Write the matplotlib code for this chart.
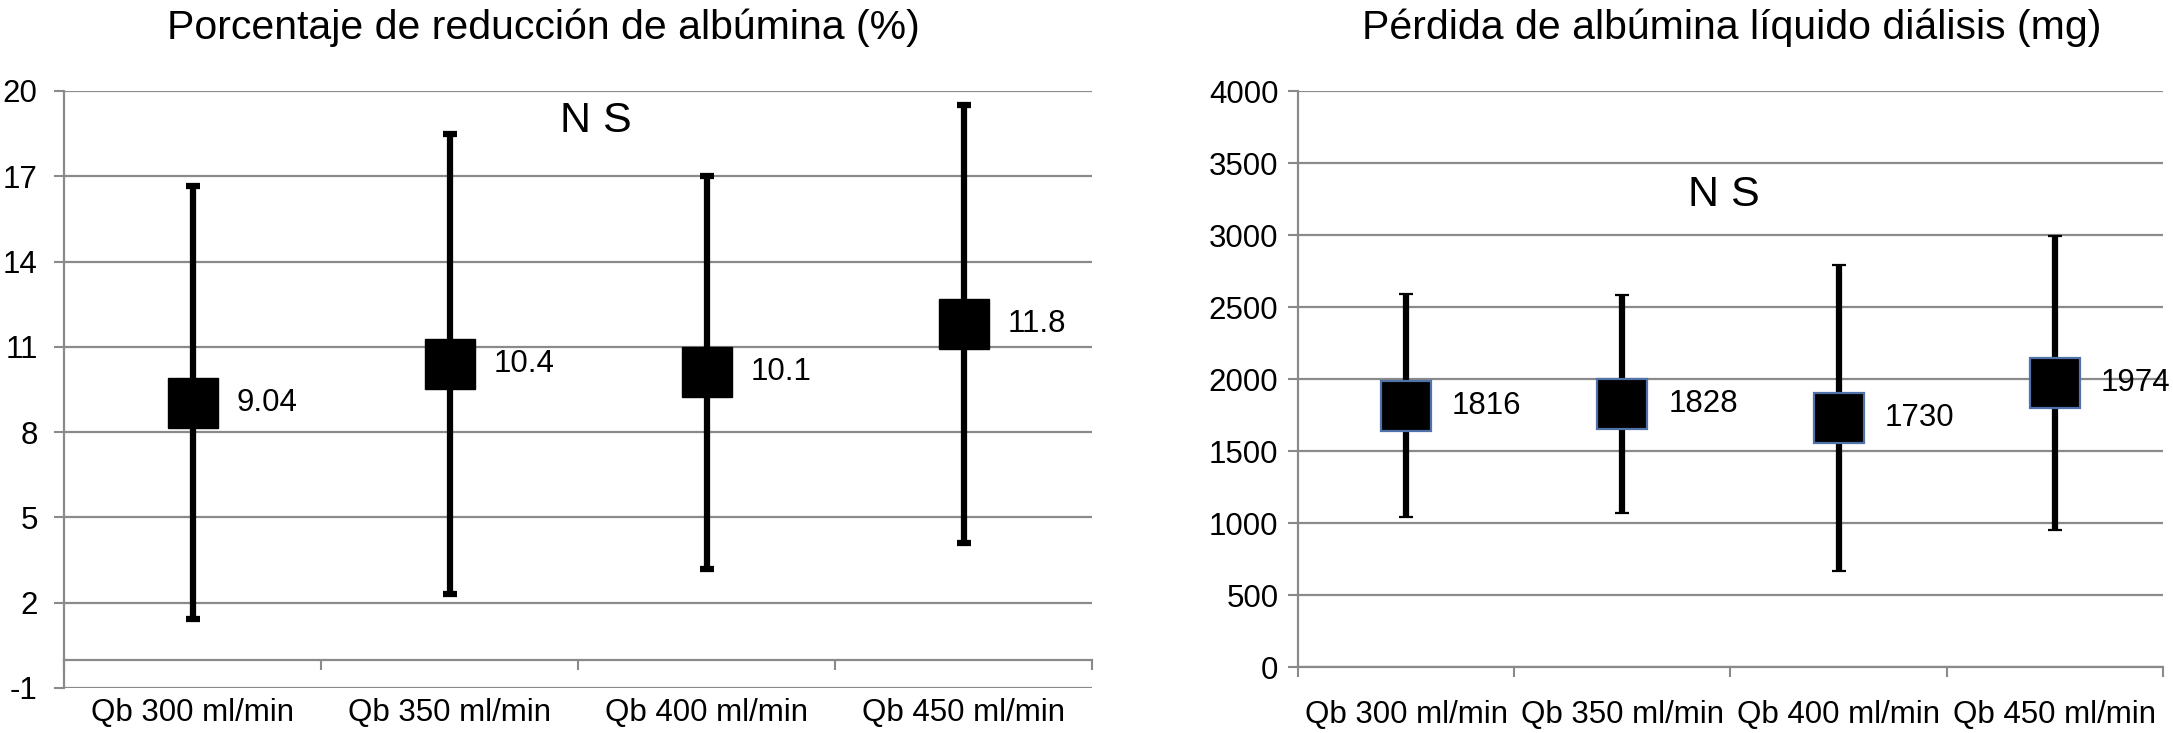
import numpy as np
import matplotlib
matplotlib.use("Agg")
import matplotlib.pyplot as plt

plt.rcParams['font.family'] = ['Liberation Sans', 'DejaVu Sans']
plt.rcParams['axes.unicode_minus'] = False

# ==========================
# Datos
# ==========================
categorias = ["Qb 300 ml/min", "Qb 350 ml/min", "Qb 400 ml/min", "Qb 450 ml/min"]

reduccion_media = [9.04, 10.4, 10.1, 11.8]
reduccion_de = [7.6, 8.1, 6.9, 7.7]
reduccion_etiquetas = ["9.04", "10.4", "10.1", "11.8"]

perdida_media = [1816, 1828, 1730, 1974]
perdida_de = [775, 757, 1065, 1025]
perdida_etiquetas = ["1816", "1828", "1730", "1974"]

ticks_izq = [-1, 2, 5, 8, 11, 14, 17, 20]
ticks_der = [0, 500, 1000, 1500, 2000, 2500, 3000, 3500, 4000]

gris = "#8a8a8a"


def preparar_eje(ax, yticks, ylim, pad_y, pad_x):
    x = np.arange(len(categorias))
    ax.set_xlim(-0.5, len(categorias) - 0.5)
    ax.set_ylim(*ylim)
    ax.set_yticks(yticks)
    ax.set_xticks(np.arange(len(categorias) + 1) - 0.5)
    ax.set_xticklabels([])
    ax.set_xticks(x, minor=True)
    ax.set_xticklabels(categorias, minor=True)
    ax.tick_params(axis='x', which='major', direction='out', length=7,
                   width=1.5, color=gris)
    ax.tick_params(axis='x', which='minor', length=0, pad=pad_x,
                   labelsize=22.5)
    ax.tick_params(axis='y', direction='out', length=7, width=1.5,
                   color=gris, labelsize=22.5, pad=pad_y)
    ax.grid(True, axis='y', color=gris, linewidth=1.6)
    ax.set_axisbelow(True)
    for lado in ['top', 'right']:
        ax.spines[lado].set_visible(False)
    for lado in ['left', 'bottom']:
        ax.spines[lado].set_color(gris)
        ax.spines[lado].set_linewidth(1.6)
    return x


fig = plt.figure(figsize=(21.73, 7.33), dpi=100)

# ==========================
# Panel izquierdo
# ==========================
ax1 = fig.add_axes([0.02945, 0.0614, 0.4731, 0.8145])
x = preparar_eje(ax1, ticks_izq, (-1, 20), 12, 28)
ax1.spines['bottom'].set_position(('data', 0))
ax1.errorbar(x, reduccion_media, yerr=reduccion_de, fmt='s', color='black',
             ecolor='black', elinewidth=4.5, capsize=5, capthick=4.5,
             markersize=36, markeredgecolor='black', zorder=3)
for xi, yi, t in zip(x, reduccion_media, reduccion_etiquetas):
    ax1.annotate(t, (xi, yi), xytext=(32, 0), textcoords='offset points',
                 ha='left', va='center', fontsize=22.5)
ax1.text(0.5175, 0.950, "N S", transform=ax1.transAxes, ha='center',
         va='center', fontsize=31)

# ==========================
# Panel derecho
# ==========================
ax2 = fig.add_axes([0.5973, 0.0900, 0.3981, 0.7852])
x = preparar_eje(ax2, ticks_der, (0, 4000), 7, 24)
ax2.errorbar(x, perdida_media, yerr=perdida_de, fmt='s', color='black',
             ecolor='black', elinewidth=4.5, capsize=5, capthick=4.5,
             markersize=36, markeredgecolor='#4f72a8', markeredgewidth=1.6,
             zorder=3)
for xi, yi, t in zip(x, perdida_media, perdida_etiquetas):
    ax2.annotate(t, (xi, yi), xytext=(33, 0), textcoords='offset points',
                 ha='left', va='center', fontsize=22.5,
                 annotation_clip=False)
ax2.text(0.4925, 0.820, "N S", transform=ax2.transAxes, ha='center',
         va='center', fontsize=31)

# ==========================
# Títulos
# ==========================
fig.text(0.2499, 0.962, "Porcentaje de reducción de albúmina (%)",
         ha='center', va='center', fontsize=29.5)
fig.text(0.797, 0.962, "Pérdida de albúmina líquido diálisis (mg)",
         ha='center', va='center', fontsize=29.5)

fig.savefig("out.png", dpi=100)
plt.close(fig)
